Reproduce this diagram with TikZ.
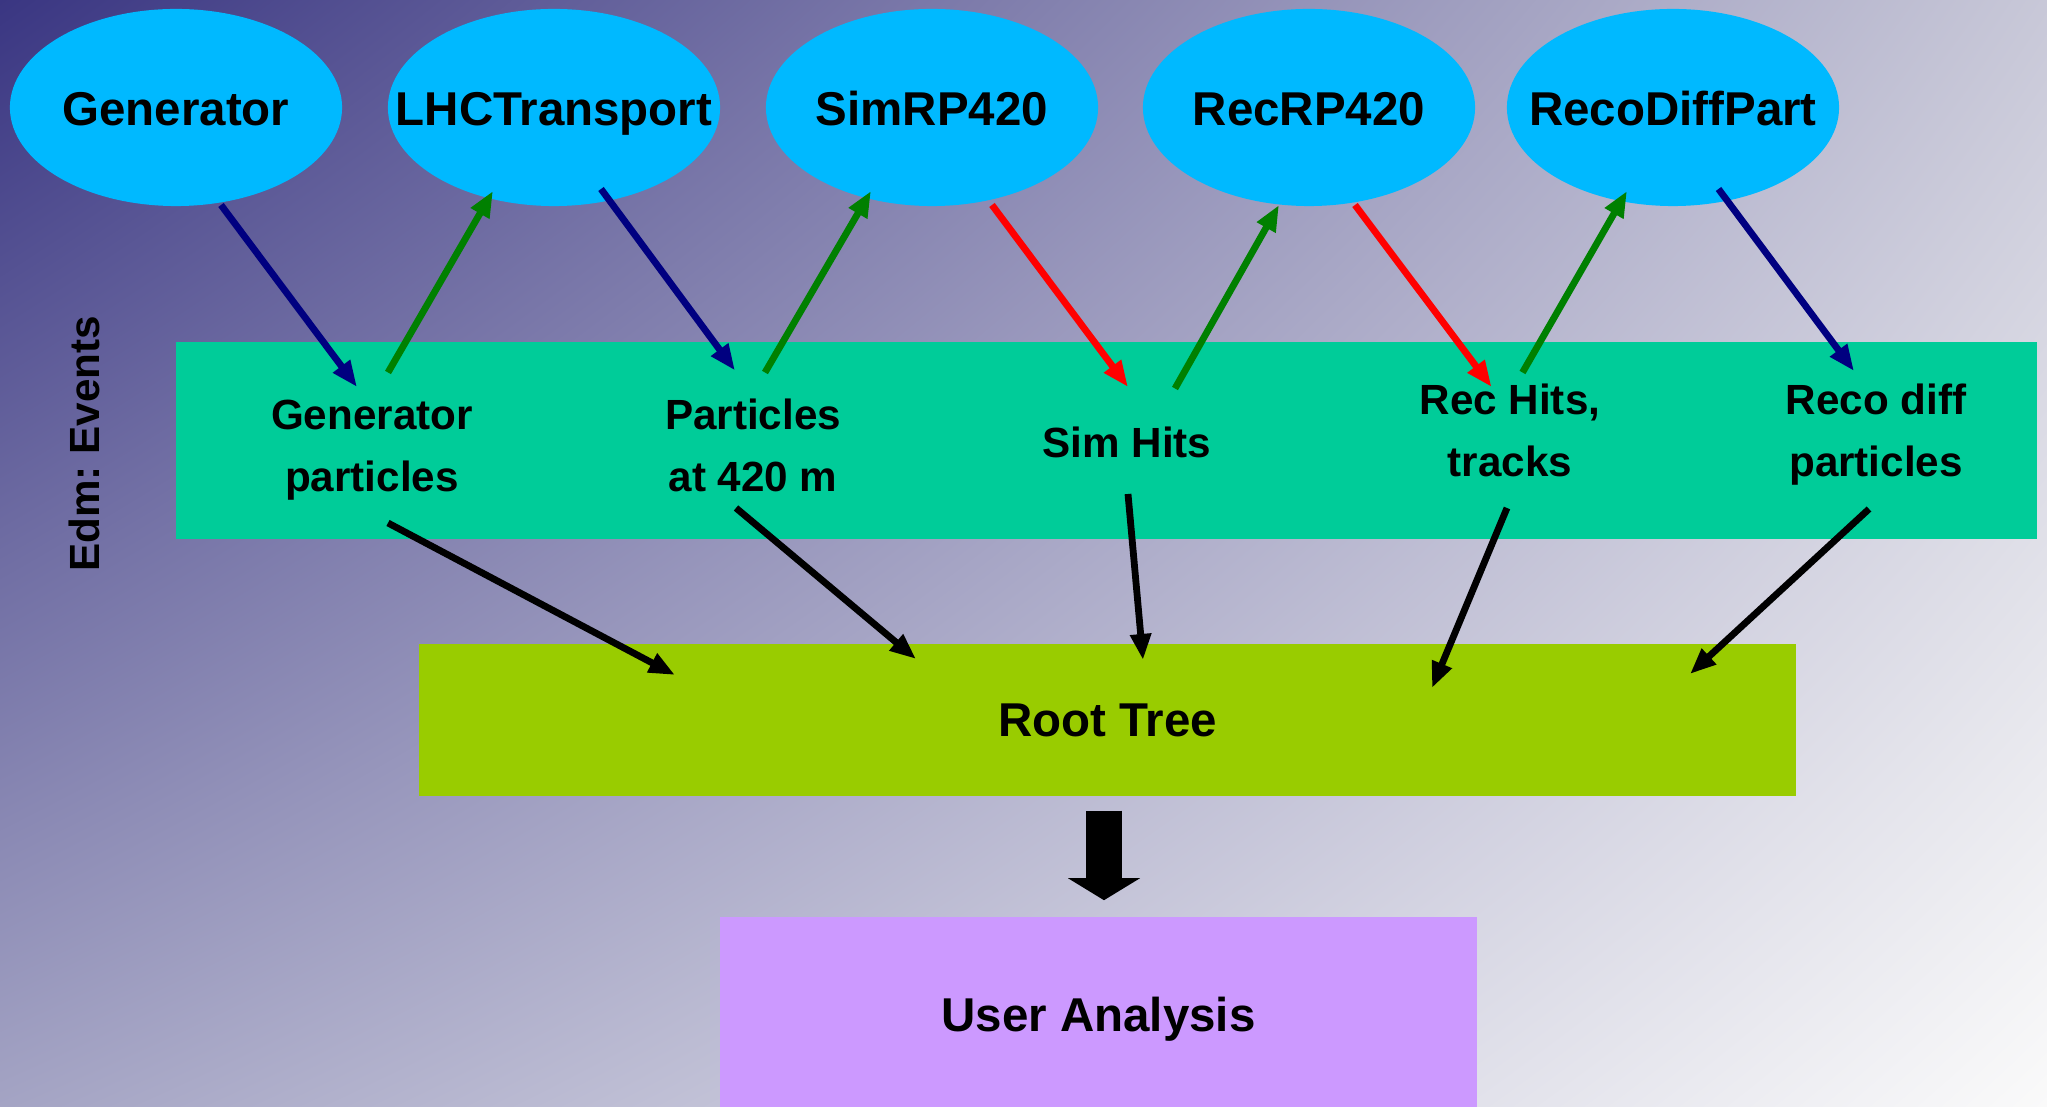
\documentclass[tikz,border=0pt]{standalone}
\usepackage{fontspec}
\setmainfont{Liberation Sans}
\frenchspacing
\usetikzlibrary{arrows.meta,calc,shapes.geometric,shadings}
\definecolor{modcyan}{HTML}{00B9FF}
\definecolor{edmgreen}{HTML}{00CC99}
\definecolor{treegreen}{HTML}{99CC00}
\definecolor{userlilac}{HTML}{CC99FF}
\definecolor{bgtl}{HTML}{3A3682}
\definecolor{bgtr}{HTML}{C8C8D8}
\definecolor{bgbl}{HTML}{A4A4C4}
\definecolor{bgbr}{HTML}{FAFAFA}
\definecolor{navyarr}{HTML}{000080}
\definecolor{greenarr}{HTML}{008000}

\begin{document}
\begin{tikzpicture}[x=0.01cm,y=-0.01cm,
    module/.style={ellipse,fill=modcyan,minimum width=3.32cm,minimum height=1.97cm,
      inner xsep=-0.6cm,inner ysep=0pt,font=\fontsize{13.5}{16}\selectfont\bfseries,
      text height=12.8pt,text depth=2.8pt},
    product/.style={align=center,inner sep=0pt,font=\fontsize{12}{17.6}\selectfont\bfseries},
    bigbox/.style={rectangle,inner sep=0pt,font=\fontsize{13.5}{16}\selectfont\bfseries},
    flow/.style={line width=0.068cm,-{Triangle[length=0.26cm,width=0.2cm]}},
    bigflow/.style={line width=0.36cm,-{Triangle[length=0.22cm,width=0.71cm]}}]
  \useasboundingbox (0,0) rectangle (2047,1107);
  \shade[upper left=bgtl,upper right=bgtr,lower left=bgbl,lower right=bgbr]
    (0,0) rectangle (2047,1107);
  % Edm event band
  \fill[edmgreen] (176,342) rectangle (2037,539);
  \node[product,rotate=90] (edm) at (84,444) {Edm: Events};
  % modules
  \node[module] (gen)  at (176,107.5)  {Generator};
  \node[module] (lhc)  at (554,107.5)  {LHCTransport};
  \node[module] (sim)  at (932,107.5)  {SimRP420};
  \node[module] (rec)  at (1309,107.5) {RecRP420};
  \node[module] (reco) at (1673,107.5) {RecoDiffPart};
  % products in the event
  \node[product] (gp)       at (372,450)    {Generator\\particles};
  \node[product] (p420)     at (753,445.5)  {Particles\\at 420 m};
  \node[product] (simhits)  at (1127,442.5) {Sim Hits};
  \node[product] (rechits)  at (1510,430)   {Rec Hits,\\tracks};
  \node[product] (recodiff) at (1876,434.5) {Reco diff\\particles};
  \node[bigbox,fill=treegreen,minimum width=13.77cm,minimum height=1.52cm]
    (root) at (1107.5,720) {Root Tree};
  \node[bigbox,fill=userlilac,minimum width=7.57cm,minimum height=2.04cm]
    (user) at (1098.5,1019) {User Analysis};
  % module chain
  \draw[flow,navyarr]  ($(gen.center)+(45,97.5)$)   -- ($(gp.center)+(-15,-63)$);
  \draw[flow,greenarr] ($(gp.center)+(16,-77.5)$)   -- ($(lhc.center)+(-61,83.5)$);
  \draw[flow,navyarr]  ($(lhc.center)+(47,81.5)$)   -- ($(p420.center)+(-18,-75)$);
  \draw[flow,greenarr] ($(p420.center)+(12,-73)$)   -- ($(sim.center)+(-61,83.5)$);
  \draw[flow,red]      ($(sim.center)+(60,97.5)$)   -- ($(simhits.center)+(1,-55.5)$);
  \draw[flow,greenarr] ($(simhits.center)+(48,-54)$) -- ($(rec.center)+(-30,97.5)$);
  \draw[flow,red]      ($(rec.center)+(46,97.5)$)   -- ($(rechits.center)+(-18.4,-43)$);
  \draw[flow,greenarr] ($(rechits.center)+(12.5,-57.5)$) -- ($(reco.center)+(-46,83.5)$);
  \draw[flow,navyarr]  ($(reco.center)+(45.5,81.5)$) -- ($(recodiff.center)+(-22,-63.5)$);
  % into the root tree
  \draw[flow] ($(gp.center)+(16,73)$)        -- ($(root.center)+(-432.5,-45)$);
  \draw[flow] ($(p420.center)+(-17,62.5)$)   -- ($(root.center)+(-191.5,-61)$);
  \draw[flow] ($(simhits.center)+(1,51.5)$)  -- ($(root.center)+(35.5,-60)$);
  \draw[flow] ($(rechits.center)+(-3,78)$)   -- ($(root.center)+(324.5,-32)$);
  \draw[flow] ($(recodiff.center)+(-7,74.5)$) -- ($(root.center)+(582.5,-46)$);
  \draw[bigflow] ($(root.south)+(-3.5,14)$) -- ($(user.north)+(5.5,-16)$);
\end{tikzpicture}
\end{document}
